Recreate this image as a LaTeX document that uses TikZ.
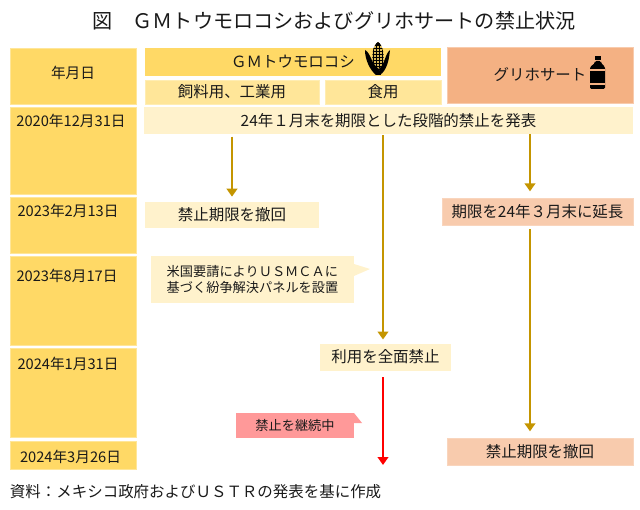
\documentclass[tikz,border=0pt]{standalone}
\usepackage{fontspec}
\setmainfont{Noto Sans CJK JP}
\usetikzlibrary{arrows.meta}
\definecolor{ink}{gray}{0.10}
\definecolor{datefill}{HTML}{FFD966}
\definecolor{dateedge}{HTML}{FFE699}
\definecolor{subfill}{HTML}{FFE699}
\definecolor{subedge}{HTML}{FFEDB3}
\definecolor{notefill}{HTML}{FFF2CC}
\definecolor{glyfill}{HTML}{F4B183}
\definecolor{glysoft}{HTML}{F8CBAD}
\definecolor{redfill}{HTML}{FF9999}
\definecolor{gold}{HTML}{C49500}

\begin{document}
\begin{tikzpicture}[x=0.75pt,y=-0.75pt,
  every node/.style={inner sep=0pt,outer sep=0pt,text=ink},
  sz/.style 2 args={minimum width=#1*0.75pt,minimum height=#2*0.75pt},
  tt/.style={font=\fontsize{15.1}{17}\selectfont},
  dt/.style={font=\fontsize{11}{13}\selectfont},
  lb/.style={font=\fontsize{11.6}{13}\selectfont},
  sm/.style={font=\fontsize{9.9}{12.6}\selectfont,align=left},
  datebox/.style={fill=datefill,draw=dateedge,line width=0.6pt},
  subbox/.style={fill=subfill,draw=subedge,line width=0.6pt},
  notebox/.style={fill=notefill,line width=0.6pt},
  glybox/.style={fill=glysoft,draw=glysoft!80!white,line width=0.6pt},
  flow/.style={draw=gold,line width=2.2pt,-{Triangle[length=6pt,width=8pt]}},
  stopflow/.style={draw=red,line width=2.2pt,-{Triangle[length=6pt,width=8pt]}}]
\useasboundingbox (0,0) rectangle (640,510);

% ---- title ---------------------------------------------------------------
\node[tt] (title) at (334,21) {図　ＧＭトウモロコシおよびグリホサートの禁止状況};

% ---- date column ---------------------------------------------------------
\foreach \n/\y/\h/\tx/\ty/\t in {dhead/76/56/73/73/年月日,
    da/150.5/87/71/121/2020年12月31日, db/225/56/68/211/2023年2月13日,
    dc/300.5/89/67/276/2023年8月17日, dd/392.5/89/68/364/2024年1月31日,
    de/455/28/70.5/457/2024年3月26日} {
  \node[datebox,sz={126}{\h}] (\n) at (73,\y) {};
  \node[dt] (\n t) at (\tx,\ty) {\t};
}

% ---- column heads --------------------------------------------------------
\node[fill=datefill,sz={296}{28},lb] (gmhead) at (293,62) {ＧＭトウモロコシ};
\node[subbox,sz={174}{24},lb] (feed) at (232,92) {飼料用、工業用};
\node[subbox,sz={116}{24},lb] (food) at (383,92) {食用};
\node[fill=glyfill,draw=glysoft,line width=0.6pt,sz={186}{56},lb] (glyhead) at (540,75) {グリホサート\hspace{8pt}};

% ---- corn ----------------------------------------------------------------
\fill[datefill!85!black] (378,42) .. controls (372,46) and (371,58) .. (374,68) -- (382,68) .. controls (385,58) and (384,46) .. (378,42) -- cycle;
\begin{scope}
  \clip (378,42) .. controls (372,46) and (371,58) .. (374,68) -- (382,68) .. controls (385,58) and (384,46) .. (378,42) -- cycle;
  \fill[black] (371,42) rectangle (385,46);
  \foreach \y in {48,51,...,66} {\draw[black,line width=0.5pt] (370,\y) -- (386,\y);}
  \foreach \x in {373,376,...,385} {\draw[black,line width=0.5pt] (\x,42) -- (\x,68);}
\end{scope}
\fill[black] (365,50) .. controls (371,53) and (371,64) .. (379,69) -- (381,75) -- (376,75) .. controls (370,70) and (365,60) .. (365,50) -- cycle;
\fill[black] (390,50) .. controls (389,60) and (387,70) .. (380,75) -- (379,69) .. controls (385,64) and (385,54) .. (390,50) -- cycle;

% ---- bottle --------------------------------------------------------------
\fill[black] (595,56) rectangle (601,60);
\fill[black,rounded corners=1pt] (595,61) -- (601,61) -- (601,63) -- (605,67) -- (605,89) -- (590,89) -- (590,67) -- (595,63) -- cycle;
\fill[glyfill] (590,69) rectangle (605,71);
\fill[glyfill] (590,83.5) rectangle (605,85);

% ---- events --------------------------------------------------------------
\node[notebox,sz={489}{27},lb] (announce) at (388.5,120.5) {24年１月末を期限とした段階的禁止を発表};
\node[notebox,sz={174}{26},lb] (revokeL) at (232,215) {禁止期限を撤回};
\node[glybox,sz={191}{27},lb] (extend) at (537.5,211.5) {期限を24年３月末に延長};
\node[notebox,sz={203}{47},sm] (panel) at (252.5,279.5) {米国要請によりＵＳＭＣＡに\\基づく紛争解決パネルを設置};
\fill[notefill] (354,264) -- (370,269) -- (354,276) -- cycle;
\node[notebox,sz={131}{27},lb] (banall) at (385.5,357) {利用を全面禁止};
\node[fill=redfill,sz={118}{25},font=\fontsize{9.9}{12}\selectfont] (keep) at (295,425.5) {禁止を継続中};
\fill[redfill] (354,413) -- (362,423) -- (354,423) -- cycle;
\node[glybox,sz={186}{27},lb] (revokeR) at (540,451.5) {禁止期限を撤回};

% ---- flow ----------------------------------------------------------------
\coordinate (laneL) at (232,0);
\coordinate (laneC) at (383,0);
\coordinate (laneR) at (530,0);
\coordinate (stopend) at (383,465);
\draw[flow,shorten <=2pt,shorten >=4pt] (laneL |- announce.south) -- (laneL |- revokeL.north);
\draw[flow,shorten <=1pt,shorten >=3pt] (laneC |- announce.south) -- (laneC |- banall.north);
\draw[flow,shorten >=5pt] (laneR |- announce.south) -- (laneR |- extend.north);
\draw[flow,shorten <=3pt,shorten >=5pt] (laneR |- extend.south) -- (laneR |- revokeR.north);
\draw[stopflow,shorten <=5pt] (laneC |- banall.south) -- (stopend);

% ---- source --------------------------------------------------------------
\node[lb,anchor=west] (source) at (10,492) {資料：メキシコ政府およびＵＳＴＲの発表を基に作成};
\end{tikzpicture}
\end{document}
